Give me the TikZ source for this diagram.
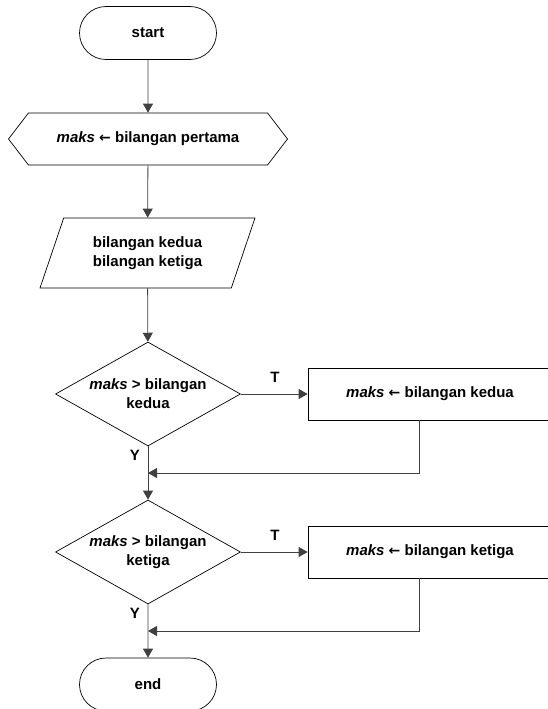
\documentclass[tikz,border=0pt]{standalone}
\usepackage{fontspec}
\setmainfont{Liberation Sans}
\newfontfamily\arrowfont{DejaVu Sans}
\newcommand{\assignarrow}{{\arrowfont\bfseries\fontsize{14}{19}\selectfont ←}}
\usetikzlibrary{shapes.geometric,shapes.misc,shapes.symbols,arrows.meta}

\tikzset{
  terminal/.style={draw, rounded rectangle, minimum width=137pt, minimum height=53pt, inner sep=0pt},
  prep/.style={draw, signal, signal to=east and west, signal pointer angle=105, minimum width=279pt, minimum height=52pt, inner sep=0pt},
  io/.style={draw, trapezium, trapezium left angle=65, trapezium right angle=115, trapezium stretches=true, minimum width=215pt, minimum height=70pt, align=center, inner sep=0pt},
  decision/.style={draw, diamond, aspect=1.78, minimum width=185pt, minimum height=104pt, align=center, inner sep=0pt},
  process/.style={draw, rectangle, minimum width=244pt, minimum height=52pt},
  flow/.style={-{Triangle[length=9pt,width=10pt]}, black!75, line width=0.8pt},
}

\begin{document}
\begin{tikzpicture}[x=1pt, y=-1pt, font=\fontsize{15}{19}\selectfont\bfseries, line width=0.7pt]
    \useasboundingbox (0,0) rectangle (548,709);

    %Inicio
    \node(start) [terminal] at (148,33) {start};
    \node(init) [prep] at (148,139) {\textit{maks} \assignarrow{} bilangan pertama};
    \node(input) [io] at (147.5,253) {bilangan kedua\\bilangan ketiga};

    %Decision 1
    \node(dec1) [decision] at (148,394) {\textit{maks} > bilangan\\kedua};
    \node(set1) [process] at (430,394) {\textit{maks} \assignarrow{} bilangan kedua\hspace{20pt}};
    \node(t1) at (275,377) {T};
    \node(y1) at (135,455) {Y};
    \coordinate(m1) at (148,473);

    %Decision 2
    \node(dec2) [decision] at (148,552) {\textit{maks} > bilangan\\ketiga};
    \node(set2) [process] at (430,552) {\textit{maks} \assignarrow{} bilangan ketiga\hspace{20pt}};
    \node(t2) at (275,535) {T};
    \node(y2) at (135,613) {Y};
    \coordinate(m2) at (148,631);

    %Fin
    \node(end) [terminal] at (148,684.5) {end};

    %Flechas
    \draw[flow] (start) -- (init);
    \draw[flow] (init) -- (input);
    \draw[flow] (input) -- (dec1);
    \draw[flow] (dec1) -- (set1);
    \draw[flow] (dec1) -- (dec2);
    \draw[flow] ([xshift=-11pt]set1.south) |- (m1);
    \draw[flow] (dec2) -- (set2);
    \draw[flow] (dec2) -- (end);
    \draw[flow] ([xshift=-11pt]set2.south) |- (m2);
\end{tikzpicture}
\end{document}
